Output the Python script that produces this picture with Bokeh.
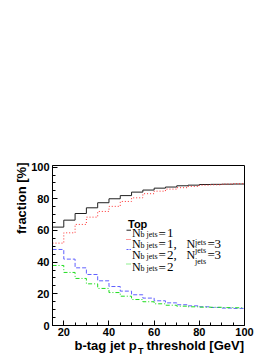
import math
from bokeh.plotting import figure
from bokeh.models import Label, Range1d, FixedTicker, BoxAnnotation
from bokeh.embed import file_html
from bokeh.resources import INLINE

# ---- data (bin edges; values are per bin) ----
edges = [15, 20, 25, 30, 35, 40, 45, 50, 55, 60, 65, 70, 75, 80, 85, 90, 95, 100]
nb1 = [62.1, 66.5, 70.7, 74.3, 77.5, 80.0, 82.0, 84.2, 85.5, 86.7, 87.4, 88.2, 88.6, 89.0, 89.1, 89.2, 89.3]
nb1_nj3 = [52.0, 58.5, 63.8, 68.4, 72.0, 75.2, 78.3, 80.6, 83.2, 84.8, 86.1, 87.0, 87.8, 88.6, 88.8, 89.3, 89.5]
nb2_nj3 = [48.0, 41.9, 36.4, 32.2, 28.2, 24.6, 21.7, 19.4, 17.3, 15.6, 14.3, 13.1, 12.4, 11.8, 11.4, 11.0, 10.8]
nb2 = [37.9, 33.5, 29.7, 26.3, 23.4, 20.8, 18.5, 16.4, 15.0, 13.7, 12.8, 12.2, 11.8, 11.6, 11.5, 11.3, 11.2]
x_ticks = [20, 40, 60, 80, 100]
y_ticks = [0, 20, 40, 60, 80, 100]
x_minor = [15, 25, 30, 35, 45, 50, 55, 65, 70, 75, 85, 90, 95]
y_minor = [5, 10, 15, 25, 30, 35, 45, 50, 55, 65, 70, 75, 85, 90, 95]

# ---- layout: pixel box of the axes frame inside the canvas ----
W, H = 274, 355
L, T, FW, FH = 52, 165, 192, 160
XMIN, XMAX, YMIN, YMAX = 15, 100, 0, 101
sx = FW / (XMAX - XMIN)
sy = FH / (YMAX - YMIN)

def dx(px):
    return XMIN + (px - L) / sx
def dy(py):
    return YMIN + (T + FH - py) / sy

p = figure(width=W, height=H, output_backend="svg", toolbar_location=None,
           x_range=Range1d(dx(0), dx(W)), y_range=Range1d(dy(H), dy(0)),
           min_border=0, min_border_left=0, min_border_right=0,
           min_border_top=0, min_border_bottom=0)
p.xgrid.visible = False
p.ygrid.visible = False
p.outline_line_color = None
p.background_fill_color = "white"
p.border_fill_color = "white"

p.xaxis.fixed_location = YMIN
p.yaxis.fixed_location = XMIN
p.xaxis.bounds = (XMIN, XMAX)
p.yaxis.bounds = (YMIN, YMAX)

for ax in (p.xaxis[0], p.yaxis[0]):
    ax.axis_line_color = "black"
    ax.major_tick_in = 5
    ax.major_tick_out = 0
    ax.minor_tick_in = 3
    ax.minor_tick_out = 0
    ax.major_tick_line_color = "black"
    ax.minor_tick_line_color = "black"
    ax.major_label_text_font = "Liberation Sans"
    ax.major_label_text_font_style = "bold"
    ax.major_label_text_font_size = "11px"
    ax.major_label_text_color = "black"
p.xaxis.ticker = FixedTicker(ticks=x_ticks, minor_ticks=x_minor)
p.yaxis.ticker = FixedTicker(ticks=y_ticks, minor_ticks=y_minor)
p.xaxis.major_label_standoff = 2
p.yaxis.major_label_standoff = 3

# frame box (top and right edges)
p.add_layout(BoxAnnotation(left=XMIN, right=XMAX, bottom=YMIN, top=YMAX,
                           fill_alpha=0, line_color="black", line_width=1, line_alpha=1))

def ext(v):
    return v + [v[-1]]

C_BLACK, C_RED, C_BLUE, C_GREEN = "#202020", "#ff3030", "#6060ff", "#20dd20"
p.step(edges, ext(nb1), mode="after", line_color=C_BLACK, line_width=1)
p.step(edges, ext(nb1_nj3), mode="after", line_color=C_RED, line_width=1, line_dash="1 2")
p.step(edges, ext(nb2_nj3), mode="after", line_color=C_BLUE, line_width=1, line_dash="4 2")
p.step(edges, ext(nb2), mode="after", line_color=C_GREEN, line_width=1, line_dash="4 2 1 2")

def lab(text, px, py, size="12px", font="Liberation Serif", style="normal", align="left", angle=0.0):
    p.add_layout(Label(x=dx(px), y=dy(py), text=text, text_font=font, text_font_style=style,
                       text_font_size=size, text_baseline="alphabetic", text_align=align,
                       angle=angle, text_color="black"))

# legend
lab("Top", 127.5, 223, size="11px", font="Liberation Sans", style="bold")
sample_y = [229.7, 239, 249, 263.5]
styles = [(C_BLACK, "solid"), (C_RED, "1 1"), (C_BLUE, "2 1"), (C_GREEN, "1 1")]
for syy, (c, d) in zip(sample_y, styles):
    p.segment(x0=[dx(126)], y0=[dy(syy)], x1=[dx(130.5)], y1=[dy(syy)], line_color=c, line_dash=d)

rows = [232.5, 243.3, 254, 266.5]
digits = ["1", "1,", "2,", "2"]
for by, dg in zip(rows, digits):
    lab("N", 131.5, by)
    lab("b jets", 140, by + 1.5, size="8px")
    lab("=", 158, by, size="13px")
    lab(dg, 166.5, by, size="13px")
lab("N", 186, rows[1])
lab("jets", 194.5, rows[1] - 1.5, size="8px")
lab("=", 207, rows[1], size="13px")
lab("3", 214, rows[1], size="13px")
lab("N", 186, rows[2])
lab("jets", 194.5, rows[2] - 4, size="8px")
lab("jets", 194.5, rows[2] + 6.5, size="8px")
lab("=", 207, rows[2], size="13px")
lab("3", 214, rows[2], size="13px")

# axis titles
lab("fraction [%]", 20.5, 162, size="13px", font="Liberation Sans", style="bold",
    align="right", angle=math.pi / 2)
lab("b-tag jet p", 74, 345, size="13px", font="Liberation Sans", style="bold")
lab("T", 137.5, 350, size="9px", font="Liberation Sans", style="bold")
lab("threshold [GeV]", 146, 345, size="13px", font="Liberation Sans", style="bold")

open("out.html", "w").write(file_html(p, INLINE))
